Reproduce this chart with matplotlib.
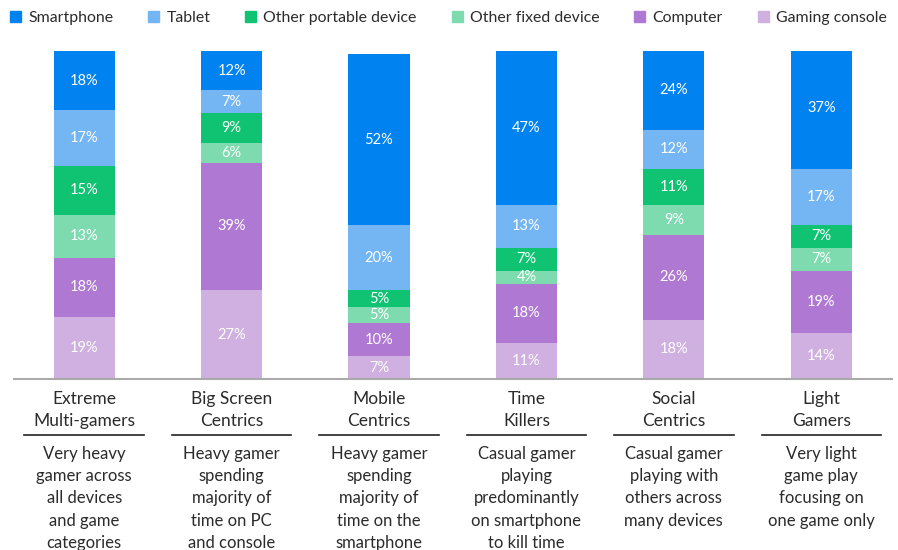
import matplotlib
matplotlib.use("Agg")
import matplotlib.pyplot as plt
from matplotlib.patches import Patch

plt.rcParams['font.family'] = ['Lato', 'DejaVu Sans']

# segments, each listed from bottom to top of the stack
series = ['Gaming console', 'Computer', 'Other fixed device',
          'Other portable device', 'Tablet', 'Smartphone']
colors = ['#cfb0e1', '#af78d2', '#7ddbaf', '#10c373', '#74b5f3', '#0082f0']

categories = ['Extreme\nMulti-gamers', 'Big Screen\nCentrics', 'Mobile\nCentrics',
              'Time\nKillers', 'Social\nCentrics', 'Light\nGamers']
descriptions = [
    'Very heavy\ngamer across\nall devices\nand game\ncategories',
    'Heavy gamer\nspending\nmajority of\ntime on PC\nand console',
    'Heavy gamer\nspending\nmajority of\ntime on the\nsmartphone',
    'Casual gamer\nplaying\npredominantly\non smartphone\nto kill time',
    'Casual gamer\nplaying with\nothers across\nmany devices',
    'Very light\ngame play\nfocusing on\none game only',
]

gaming_console = [19, 27, 7, 11, 18, 14]
computer = [18, 39, 10, 18, 26, 19]
other_fixed = [13, 6, 5, 4, 9, 7]
other_portable = [15, 9, 5, 7, 11, 7]
tablet = [17, 7, 20, 13, 12, 17]
smartphone = [18, 12, 52, 47, 24, 37]

values = [gaming_console, computer, other_fixed, other_portable, tablet, smartphone]

text_color = '#2b2b2b'

fig = plt.figure(figsize=(8.98, 5.5), dpi=100)
ax = fig.add_axes([14 / 898, (550 - 379) / 550, 878 / 898, 328 / 550])

x = list(range(len(categories)))
bottoms = [0] * len(categories)
for name, vals, col in zip(series, values, colors):
    ax.bar(x, vals, width=0.414, bottom=bottoms, color=col, label=name)
    for i, v in enumerate(vals):
        ax.text(i, bottoms[i] + v / 2, f'{v}%', ha='center', va='center',
                color='white', fontsize=10.5)
    bottoms = [b + v for b, v in zip(bottoms, vals)]

ax.set_xlim(-0.476, 5.48)
ax.set_ylim(0, 100)
for s in ['top', 'right', 'left']:
    ax.spines[s].set_visible(False)
ax.spines['bottom'].set_color('#aaaaaa')
ax.spines['bottom'].set_linewidth(1.5)
ax.set_xticks([])
ax.set_yticks([])

tr = ax.get_xaxis_transform()
for i in x:
    ax.text(i, -0.036, categories[i], transform=tr, ha='center', va='top',
            fontsize=12.5, color=text_color, linespacing=1.5)
    ax.plot([i - 0.405, i + 0.405], [-0.171, -0.171], transform=tr,
            color='#222222', lw=1.2, clip_on=False)
    ax.text(i, -0.203, descriptions[i], transform=tr, ha='center', va='top',
            fontsize=12, color=text_color, linespacing=1.49)

# legend in the original order
handles = [Patch(color=c, label=n) for n, c in zip(series, colors)][::-1]
fig.legend(handles=handles, loc='upper left', bbox_to_anchor=(10 / 898, 1 - 11 / 550),
           ncol=6, frameon=False, fontsize=11.4, handlelength=0.7, handleheight=0.7,
           handletextpad=0.45, columnspacing=2.2, borderpad=0, borderaxespad=0,
           labelcolor=text_color)

fig.savefig('out.png', dpi=100)
